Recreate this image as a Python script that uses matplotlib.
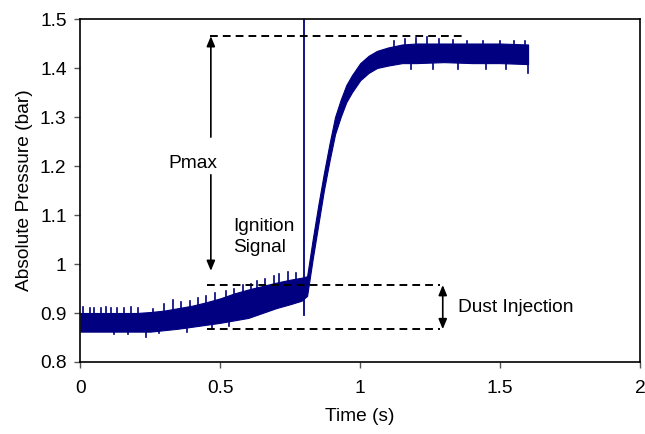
import matplotlib
matplotlib.use("Agg")
import matplotlib.pyplot as plt

plt.rcParams['font.family'] = ['Liberation Sans', 'DejaVu Sans']

time = [0.0, 0.05, 0.1, 0.15, 0.2, 0.25, 0.3, 0.35, 0.4, 0.45, 0.5, 0.55,
        0.6, 0.65, 0.7, 0.75, 0.79, 0.81, 0.83, 0.85, 0.87, 0.89, 0.91,
        0.93, 0.95, 0.97, 1.0, 1.03, 1.06, 1.1, 1.15, 1.2, 1.3, 1.4, 1.5, 1.6]
p_low = [0.862, 0.862, 0.862, 0.862, 0.862, 0.862, 0.865, 0.868, 0.872,
         0.876, 0.880, 0.885, 0.890, 0.900, 0.910, 0.918, 0.925, 0.935,
         1.010, 1.080, 1.150, 1.210, 1.265, 1.300, 1.330, 1.350, 1.375,
         1.390, 1.400, 1.405, 1.410, 1.410, 1.412, 1.410, 1.410, 1.408]
p_high = [0.900, 0.900, 0.900, 0.900, 0.900, 0.902, 0.905, 0.910, 0.915,
          0.922, 0.930, 0.940, 0.948, 0.955, 0.962, 0.968, 0.972, 0.975,
          1.050, 1.120, 1.185, 1.245, 1.300, 1.335, 1.365, 1.385, 1.410,
          1.425, 1.435, 1.442, 1.448, 1.450, 1.450, 1.450, 1.450, 1.448]

# single noise spikes (time, bottom, top)
spikes = [(0.01, 0.88, 0.912), (0.035, 0.88, 0.910), (0.05, 0.88, 0.911),
          (0.075, 0.88, 0.911), (0.09, 0.88, 0.912), (0.11, 0.88, 0.910),
          (0.13, 0.88, 0.911), (0.155, 0.88, 0.910), (0.18, 0.88, 0.912),
          (0.205, 0.88, 0.910), (0.234, 0.851, 0.87), (0.26, 0.88, 0.908),
          (0.30, 0.88, 0.918), (0.33, 0.89, 0.927), (0.36, 0.89, 0.922),
          (0.39, 0.89, 0.925), (0.42, 0.89, 0.930), (0.45, 0.90, 0.935),
          (0.48, 0.90, 0.940), (0.52, 0.91, 0.945), (0.55, 0.91, 0.950),
          (0.58, 0.92, 0.958), (0.61, 0.92, 0.960), (0.63, 0.93, 0.965),
          (0.66, 0.93, 0.970), (0.69, 0.94, 0.975), (0.71, 0.94, 0.980),
          (0.74, 0.94, 0.984), (0.77, 0.95, 0.982),
          (0.12, 0.858, 0.88), (0.17, 0.858, 0.88), (0.28, 0.860, 0.88),
          (0.38, 0.862, 0.89), (0.47, 0.868, 0.90), (0.53, 0.874, 0.90),
          (1.12, 1.42, 1.455), (1.16, 1.42, 1.460), (1.20, 1.42, 1.462),
          (1.24, 1.42, 1.464), (1.28, 1.42, 1.460), (1.33, 1.42, 1.458),
          (1.38, 1.42, 1.456), (1.44, 1.42, 1.456), (1.50, 1.42, 1.455),
          (1.55, 1.42, 1.456), (1.59, 1.42, 1.455),
          (1.18, 1.398, 1.42), (1.26, 1.398, 1.42), (1.35, 1.398, 1.42),
          (1.45, 1.398, 1.42), (1.52, 1.398, 1.42), (1.6, 1.39, 1.42)]

# ignition signal spike
ign_t = 0.8
ign_low = 0.895
ign_high = 1.55

# annotation levels
p_max = 1.465
dust_top = 0.957
dust_bottom = 0.867

navy = '#000080'

fig = plt.figure(figsize=(6.45, 4.34), dpi=100)
ax = fig.add_axes([0.1248, 0.1659, 0.8674, 0.7903])

ax.fill_between(time, p_low, p_high, color=navy, lw=0.8)
for t, a, b in spikes:
    ax.plot([t, t], [a, b], color=navy, lw=1.2)
ax.plot([ign_t, ign_t], [ign_low, ign_high], color=navy, lw=1.3)

dash = dict(color='black', lw=1.4, ls=(0, (4, 2.6)))
ax.plot([0.4625, 1.373], [p_max, p_max], **dash)
ax.plot([0.451, 1.284], [dust_top, dust_top], **dash)
ax.plot([0.451, 1.284], [dust_bottom, dust_bottom], **dash)

arr = dict(arrowstyle='-|>,head_length=0.6,head_width=0.25', color='black',
           lw=1.2, shrinkA=0, shrinkB=0, mutation_scale=10)
ax.annotate('', xy=(0.466, p_max), xytext=(0.466, 1.259), arrowprops=arr)
ax.annotate('', xy=(0.466, 0.986), xytext=(0.466, 1.182), arrowprops=arr)
ax.annotate('', xy=(1.295, dust_top), xytext=(1.295, dust_bottom),
            arrowprops=dict(arr, arrowstyle='<|-|>,head_length=0.6,head_width=0.25'))

ax.text(0.40, 1.206, 'Pmax', fontsize=13.8, ha='center', va='center')
ax.text(0.545, 1.055, 'Ignition\nSignal', fontsize=13.8, ha='left',
        va='center', linespacing=1.25)
ax.text(1.35, 0.912, 'Dust Injection', fontsize=13.8, ha='left', va='center')

ax.set_xlim(0, 2)
ax.set_ylim(0.8, 1.5)
ax.set_xticks([0, 0.5, 1, 1.5, 2])
ax.set_xticklabels(['0', '0.5', '1', '1.5', '2'])
ax.set_yticks([0.8, 0.9, 1.0, 1.1, 1.2, 1.3, 1.4, 1.5])
ax.set_yticklabels(['0.8', '0.9', '1', '1.1', '1.2', '1.3', '1.4', '1.5'])
ax.tick_params(labelsize=13.8, length=4, width=1, color='#555555')
ax.tick_params(axis='x', pad=9)
ax.tick_params(axis='y', pad=6)
for s in ax.spines.values():
    s.set_linewidth(1.2)

ax.set_xlabel('Time (s)', fontsize=13.8, labelpad=8)
ax.set_ylabel('Absolute Pressure (bar)', fontsize=13.8, labelpad=5)

fig.savefig('out.png', dpi=100)
